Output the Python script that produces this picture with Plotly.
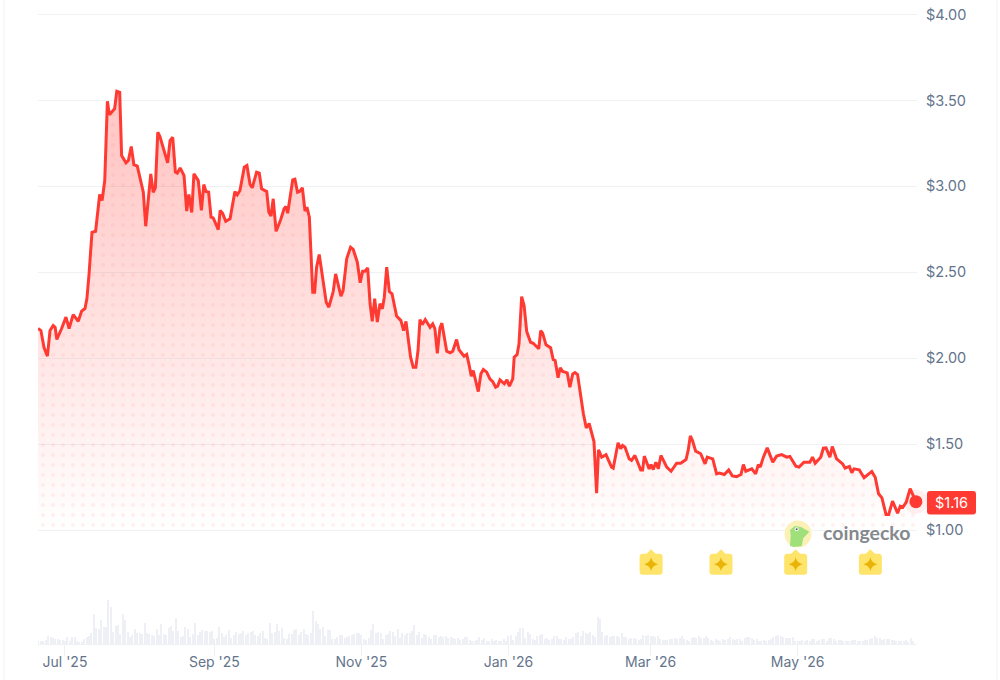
import pandas as pd
import plotly.graph_objects as go

# price series: days since 1 Jul 2025 and price in USD
price_days = [
    -11.2, -10.0, -8.7, -7.3, -6.2, -4.9, -4.1, -3.4, -1.4, 0.4, 1.7, 3.4, 5.5, 6.9, 8.3, 9.1, 10.0, 11.2, 12.7, 14.4,
    15.4, 16.5, 17.6, 18.4, 20.6, 21.5, 22.7, 23.5, 25.3, 26.3, 27.5, 28.6, 30.0, 32.5, 33.5, 35.6, 36.6, 37.5, 38.5, 39.4,
    42.6, 43.6, 44.7, 45.8, 46.6, 47.8, 49.4, 50.5, 51.4, 52.6, 53.5, 55.3, 56.6, 57.6, 58.5, 59.6, 60.6, 61.5, 63.6, 64.4,
    65.4, 66.7, 68.5, 70.5, 71.5, 72.6, 74.4, 75.5, 76.8, 77.7, 79.5, 80.6, 81.6, 83.7, 84.6, 85.5, 86.4, 87.6, 89.5, 90.9,
    91.7, 92.4, 94.5, 95.4, 96.5, 97.5, 98.5, 99.6, 100.4, 101.4, 102.8, 103.6, 104.4, 105.5, 108.4, 109.5, 111.3, 112.3, 114.5, 115.4,
    116.9, 118.5, 119.6, 121.3, 122.5, 123.5, 124.5, 125.6, 126.6, 127.5, 128.5, 129.6, 130.7, 131.7, 132.5, 133.5, 134.6, 135.7, 137.6, 139.4,
    140.5, 141.5, 143.4, 144.5, 145.6, 146.5, 147.3, 148.3, 149.5, 151.5, 152.6, 153.5, 154.5, 155.6, 156.4, 158.4, 159.8, 160.9, 162.5, 163.5,
    165.6, 166.7, 167.6, 168.6, 169.4, 171.5, 172.6, 173.6, 175.0, 176.3, 177.5, 178.7, 179.5, 180.5, 182.3, 183.4, 184.4, 185.8, 186.4, 187.6,
    188.4, 189.5, 190.5, 191.6, 193.2, 194.3, 196.6, 197.4, 198.2, 199.6, 201.5, 202.6, 203.4, 204.6, 205.5, 206.5, 208.4, 209.5, 210.7, 211.6,
    212.7, 215.1, 216.3, 217.5, 219.5, 220.6, 221.4, 222.7, 224.5, 226.8, 227.5, 229.5, 230.6, 231.4, 232.4, 234.1, 235.1, 236.5, 238.9, 239.7,
    240.4, 242.4, 243.2, 244.1, 245.2, 246.2, 247.3, 249.7, 251.5, 253.8, 255.5, 257.7, 258.6, 259.5, 260.4, 261.7, 263.8, 265.6, 266.5, 268.8,
    270.4, 271.5, 273.6, 275.4, 276.9, 278.7, 280.5, 281.5, 282.5, 285.0, 286.6, 287.7, 288.5, 289.8, 291.4, 293.7, 295.3, 297.4, 299.5, 300.8,
    303.3, 304.6, 306.6, 309.1, 310.2, 311.3, 313.6, 314.7, 315.8, 317.4, 318.4, 320.2, 322.7, 323.7, 325.5, 326.5, 327.4, 329.6, 331.6, 334.8,
    336.2, 337.6, 339.0, 340.7, 341.8, 343.4, 345.5, 346.6, 347.7, 349.1, 350.7, 353.1,
]
prices = [
    2.173, 2.161, 2.062, 2.012, 2.161, 2.190, 2.180, 2.109, 2.173, 2.239, 2.173, 2.254, 2.215, 2.274, 2.289, 2.347, 2.493, 2.733, 2.739, 2.953,
    2.918, 3.034, 3.496, 3.417, 3.452, 3.554, 3.548, 3.180, 3.137, 3.151, 3.232, 3.126, 3.118, 2.966, 2.768, 3.073, 2.966, 2.992, 3.315, 3.290,
    3.137, 3.267, 3.286, 3.083, 3.077, 3.108, 3.063, 2.856, 2.953, 2.848, 3.073, 3.034, 2.860, 3.011, 2.970, 2.966, 2.821, 2.817, 2.749, 2.860,
    2.844, 2.797, 2.811, 2.970, 2.951, 2.976, 3.112, 3.122, 3.011, 2.992, 3.083, 3.077, 2.986, 2.970, 2.850, 2.827, 2.928, 2.739, 2.806, 2.870,
    2.883, 2.844, 3.038, 3.042, 2.966, 2.972, 2.992, 2.856, 2.879, 2.821, 2.384, 2.384, 2.530, 2.604, 2.326, 2.297, 2.388, 2.491, 2.361, 2.394,
    2.579, 2.646, 2.633, 2.559, 2.439, 2.506, 2.506, 2.526, 2.317, 2.214, 2.346, 2.210, 2.317, 2.288, 2.355, 2.530, 2.388, 2.375, 2.245, 2.219,
    2.161, 2.214, 2.006, 1.948, 1.948, 2.045, 2.225, 2.196, 2.225, 2.180, 2.200, 2.171, 2.029, 2.177, 2.204, 2.041, 2.031, 2.041, 2.109, 2.049,
    2.012, 2.022, 1.967, 1.895, 1.928, 1.806, 1.909, 1.934, 1.919, 1.880, 1.864, 1.831, 1.837, 1.874, 1.851, 1.874, 1.837, 1.880, 2.006, 2.020,
    2.084, 2.359, 2.307, 2.155, 2.093, 2.087, 2.055, 2.161, 2.146, 2.078, 2.061, 1.992, 1.987, 1.886, 1.944, 1.923, 1.915, 1.831, 1.909, 1.917,
    1.905, 1.678, 1.594, 1.620, 1.515, 1.214, 1.467, 1.424, 1.439, 1.366, 1.360, 1.508, 1.473, 1.492, 1.482, 1.414, 1.405, 1.434, 1.350, 1.350,
    1.430, 1.356, 1.381, 1.352, 1.395, 1.356, 1.434, 1.366, 1.342, 1.389, 1.389, 1.410, 1.463, 1.548, 1.521, 1.459, 1.444, 1.385, 1.424, 1.414,
    1.327, 1.331, 1.323, 1.350, 1.315, 1.311, 1.323, 1.381, 1.342, 1.356, 1.327, 1.381, 1.366, 1.424, 1.478, 1.395, 1.430, 1.439, 1.424, 1.428,
    1.371, 1.366, 1.395, 1.395, 1.424, 1.389, 1.424, 1.476, 1.478, 1.424, 1.486, 1.414, 1.385, 1.360, 1.370, 1.333, 1.356, 1.350, 1.304, 1.341,
    1.307, 1.211, 1.187, 1.090, 1.090, 1.168, 1.098, 1.139, 1.133, 1.162, 1.241, 1.165,
]

# daily volume bars, relative heights, first bar is 20 Jun 2025
volume_start = "2025-06-20"
volumes = [
    3, 3, 3, 4, 8, 7, 6, 5, 5, 4, 4, 3, 7, 3, 7, 7, 3, 2, 2, 5,
    7, 8, 11, 30, 16, 15, 24, 17, 17, 44, 37, 12, 18, 19, 10, 30, 24, 12, 7, 9,
    15, 11, 11, 10, 21, 11, 10, 9, 8, 15, 9, 20, 10, 9, 16, 18, 13, 26, 13, 7,
    8, 17, 15, 7, 10, 21, 9, 12, 14, 13, 13, 12, 13, 5, 6, 17, 11, 7, 9, 14,
    6, 9, 12, 10, 11, 13, 9, 11, 12, 13, 9, 8, 11, 13, 6, 5, 21, 11, 12, 20,
    13, 16, 6, 5, 10, 10, 14, 15, 9, 12, 15, 10, 9, 11, 33, 23, 20, 15, 17, 8,
    14, 14, 5, 5, 7, 9, 9, 6, 7, 8, 9, 10, 11, 11, 9, 5, 4, 6, 14, 20,
    11, 12, 11, 5, 9, 10, 13, 12, 8, 15, 6, 11, 9, 11, 11, 13, 19, 9, 12, 6,
    10, 9, 7, 5, 9, 9, 7, 8, 7, 8, 6, 7, 6, 5, 6, 4, 5, 7, 7, 4,
    3, 3, 4, 7, 4, 6, 3, 3, 5, 3, 4, 3, 3, 5, 3, 8, 9, 4, 8, 12,
    16, 16, 6, 12, 10, 5, 4, 8, 9, 10, 5, 6, 4, 5, 8, 8, 5, 5, 4, 7,
    5, 5, 7, 11, 12, 8, 13, 11, 10, 12, 9, 7, 27, 25, 12, 8, 9, 7, 8, 8,
    8, 7, 11, 7, 7, 5, 6, 6, 5, 4, 5, 9, 8, 9, 8, 8, 7, 8, 5, 4,
    4, 4, 5, 5, 6, 5, 6, 8, 5, 4, 3, 6, 7, 6, 8, 6, 6, 8, 6, 4,
    3, 5, 4, 3, 5, 4, 5, 7, 5, 4, 5, 5, 3, 6, 7, 7, 6, 4, 5, 3,
    3, 4, 3, 4, 5, 7, 8, 9, 8, 7, 6, 6, 6, 7, 3, 3, 3, 4, 3, 4,
    3, 5, 5, 3, 4, 5, 5, 3, 6, 6, 5, 3, 4, 4, 3, 3, 3, 3, 4, 4,
    3, 3, 3, 4, 4, 5, 6, 8, 6, 6, 4, 5, 5, 5, 4, 4, 3, 3, 3, 3,
    4, 2, 6, 3,
]

x_tick_dates = ["2025-07-01", "2025-09-01", "2025-11-01", "2026-01-01", "2026-03-01", "2026-05-01"]
x_tick_labels = ["Jul '25", "Sep '25", "Nov '25", "Jan '26", "Mar '26", "May '26"]
y_ticks = [1.0, 1.5, 2.0, 2.5, 3.0, 3.5, 4.0]
y_tick_labels = ["$1.00", "$1.50", "$2.00", "$2.50", "$3.00", "$3.50", "$4.00"]
event_dates = ["2026-03-01", "2026-03-30", "2026-04-30", "2026-05-31"]
last_label = "$1.16"
baseline_price = 1.0

RED = "#ff3a33"
GRID = "#eff2f5"
MUTED = "#64748b"
FONT = "Inter"

# plot box in window pixels, wide enough that the last point stays inside
LEFT, RIGHT, BOTTOM = 38, 917, 644


def px_x(x):
    return (x - LEFT) / (RIGHT - LEFT)


def px_y(y):
    return 1 - y / BOTTOM


def to_path(points):
    return "M " + " L ".join(f"{px_x(x)},{px_y(y)}" for x, y in points) + " Z"


def rounded_rect(x0, y0, x1, y1, r):
    return (
        f"M {px_x(x0 + r)},{px_y(y0)} L {px_x(x1 - r)},{px_y(y0)} Q {px_x(x1)},{px_y(y0)} {px_x(x1)},{px_y(y0 + r)} "
        f"L {px_x(x1)},{px_y(y1 - r)} Q {px_x(x1)},{px_y(y1)} {px_x(x1 - r)},{px_y(y1)} "
        f"L {px_x(x0 + r)},{px_y(y1)} Q {px_x(x0)},{px_y(y1)} {px_x(x0)},{px_y(y1 - r)} "
        f"L {px_x(x0)},{px_y(y0 + r)} Q {px_x(x0)},{px_y(y0)} {px_x(x0 + r)},{px_y(y0)} Z"
    )


def circle(cx, cy, r, color):
    return dict(
        type="circle", xref="paper", yref="paper", layer="above",
        x0=px_x(cx - r), x1=px_x(cx + r), y0=px_y(cy + r), y1=px_y(cy - r),
        fillcolor=color, line=dict(width=0),
    )


def badge_shapes(date):
    # anchored on the event date, the path itself is in pixels around the anchor
    common = dict(
        type="path", xref="x", yref="paper", xsizemode="pixel", ysizemode="pixel",
        xanchor=date, yanchor=px_y(564.3), layer="above", line=dict(width=0),
    )
    body = "M -8,10.5 L 9,10.5 Q 12,10.5 12,7 L 12,-7 Q 12,-10.5 9,-10.5 L -8,-10.5 Q -11,-10.5 -11,-7 L -11,7 Q -11,10.5 -8,10.5 Z"
    top = "M -4.5,10 L 0.5,15 L 5.5,10 Z"
    star = "M 0.5,7 Q 1.7,1.2 7.5,0 Q 1.7,-1.2 0.5,-7 Q -0.7,-1.2 -6.5,0 Q -0.7,1.2 0.5,7 Z"
    return [
        dict(path=body, fillcolor="#fee46a", **common),
        dict(path=top, fillcolor="#fee46a", **common),
        dict(path=star, fillcolor="#eab308", **common),
    ]


base_day = pd.Timestamp("2025-07-01")
price_dates = base_day + pd.to_timedelta(price_days, unit="D")
volume_dates = pd.date_range(volume_start, periods=len(volumes), freq="D")
x_range = [base_day + pd.Timedelta(days=-11.2), base_day + pd.Timedelta(days=353.55)]

fig = go.Figure()

# area sits on the $1.00 line, so it needs a baseline trace under it
baseline_x = [price_dates[0], price_dates[-1]]
baseline_y = [baseline_price, baseline_price]
fig.add_trace(go.Scatter(x=baseline_x, y=baseline_y, mode="lines", line=dict(width=0), hoverinfo="skip"))
fig.add_trace(
    go.Scatter(
        x=price_dates, y=prices, mode="lines", line=dict(width=0), hoverinfo="skip", fill="tonexty",
        fillgradient=dict(
            type="vertical",
            colorscale=[[0, "rgba(255,58,51,0)"], [1, "rgba(255,58,51,0.27)"]],
            start=baseline_price,
            stop=3.2,
        ),
    )
)
fig.add_trace(go.Scatter(x=baseline_x, y=baseline_y, mode="lines", line=dict(width=0), hoverinfo="skip"))
fig.add_trace(
    go.Scatter(
        x=price_dates, y=prices, mode="lines", name="Price", fill="tonexty",
        line=dict(color=RED, width=3),
        fillcolor="rgba(0,0,0,0)",
        fillpattern=dict(shape=".", size=10, solidity=0.14, fgcolor=RED, fgopacity=0.065, bgcolor="rgba(0,0,0,0)"),
    )
)
fig.add_trace(
    go.Bar(x=volume_dates, y=volumes, yaxis="y2", width=86400000 * 0.42, marker=dict(color="#eef0f6", line=dict(width=0)), name="Volume")
)
fig.add_trace(
    go.Scatter(
        x=[price_dates[-1]], y=[prices[-1]], mode="markers", cliponaxis=False, hoverinfo="skip",
        marker=dict(size=24, color="rgba(255,58,51,0.08)"),
    )
)
fig.add_trace(
    go.Scatter(
        x=[price_dates[-1]], y=[prices[-1]], mode="markers", cliponaxis=False, name="Last",
        marker=dict(size=13, color=RED),
    )
)

shapes = [
    # page border left and right of the card
    dict(type="line", xref="paper", yref="paper", x0=px_x(4), x1=px_x(4), y0=px_y(680), y1=1, line=dict(color=GRID, width=1)),
    dict(type="line", xref="paper", yref="paper", x0=px_x(997), x1=px_x(997), y0=px_y(680), y1=1, line=dict(color=GRID, width=1)),
    # last price tag
    dict(type="path", xref="paper", yref="paper", path=rounded_rect(927, 491, 976, 514.5, 3), fillcolor=RED, line=dict(width=0), layer="above"),
    # coingecko logo
    circle(798, 534, 13.5, "#fbf0b5"),
    dict(
        type="path", xref="paper", yref="paper", layer="above", fillcolor="#9fe07a", line=dict(width=0),
        path=to_path([(795, 526), (801, 527), (809.3, 531.7), (803.3, 538), (801.7, 546), (794, 547), (790, 546), (790.7, 535), (790, 530)]),
    ),
    circle(796.7, 529.3, 2, "#ffffff"),
    circle(796.7, 529.3, 1, "#55585c"),
]
for date in event_dates:
    shapes.extend(badge_shapes(date))

annotations = [
    dict(
        text=last_label, xref="paper", yref="paper", x=px_x(951.5), y=px_y(502.7), showarrow=False,
        xanchor="center", yanchor="middle",
        font=dict(family=FONT, size=14.5, color="#ffffff"),
    ),
    dict(
        text="<b>coingecko</b>", xref="paper", yref="paper", x=px_x(821), y=px_y(532.5), showarrow=False,
        xanchor="left", yanchor="middle",
        font=dict(family="Lato", size=19.5, color="#85888d"),
    ),
]

fig.update_layout(
    width=1000,
    height=680,
    margin=dict(l=LEFT, r=1000 - RIGHT, t=0, b=680 - BOTTOM, pad=0),
    paper_bgcolor="#ffffff",
    plot_bgcolor="#ffffff",
    showlegend=False,
    font=dict(family=FONT, size=14, color=MUTED),
    bargap=0,
    shapes=shapes,
    annotations=annotations,
    xaxis=dict(
        type="date",
        range=x_range,
        tickmode="array",
        tickvals=x_tick_dates,
        ticktext=x_tick_labels,
        ticks="outside",
        ticklen=11,
        tickwidth=1,
        tickcolor=GRID,
        showgrid=False,
        showline=True,
        linecolor=GRID,
        linewidth=1,
        zeroline=False,
        ticklabelstandoff=-6,
        tickfont=dict(family=FONT, size=14, color=MUTED),
    ),
    yaxis=dict(
        range=[0.3365, 4.085],
        side="right",
        tickmode="array",
        tickvals=y_ticks,
        ticktext=y_tick_labels,
        ticks="",
        showline=False,
        zeroline=False,
        showgrid=True,
        gridcolor=GRID,
        gridwidth=1,
        ticklabelstandoff=8,
        tickfont=dict(family=FONT, size=14.5, color=MUTED),
    ),
    yaxis2=dict(range=[0, BOTTOM], overlaying="y", visible=False),
)

fig.write_html("out.html", post_script="document.body.style.margin='0';", config=dict(displayModeBar=False))
